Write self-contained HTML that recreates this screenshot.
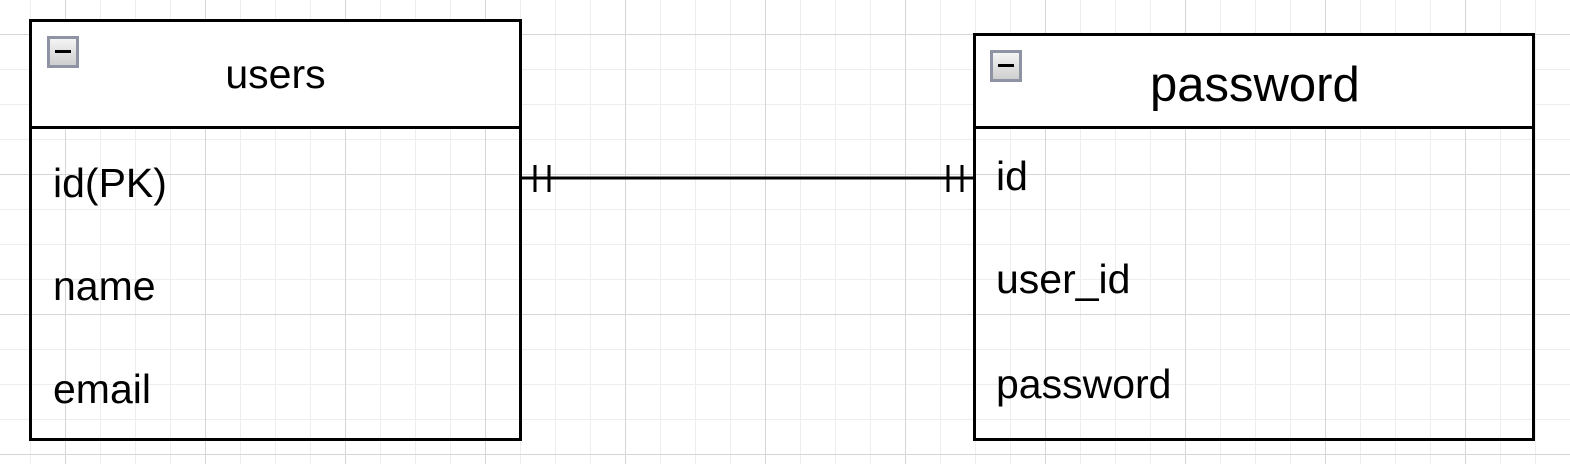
<!DOCTYPE html>
<html><head><style>
body{margin:0;width:1570px;height:464px;overflow:hidden;background:#fff;
background-image:
linear-gradient(to right,#d6d6d6 1px,transparent 1px),
linear-gradient(to bottom,#d6d6d6 1px,transparent 1px),
linear-gradient(to right,#eeeeee 1px,transparent 1px),
linear-gradient(to bottom,#eeeeee 1px,transparent 1px);
background-size:140px 140px,140px 140px,35px 35px,35px 35px;
background-position:65px 0,0 34px,30px 0,0 -1px;
font-family:"Liberation Sans",Arial,sans-serif;position:relative}
.box{position:absolute;border:3px solid #000;box-sizing:border-box}
.hdr{position:absolute;left:0;right:0;top:0;background:#fff;border-bottom:3px solid #000;box-sizing:border-box}
.ic{position:absolute;width:32px;height:32px;box-sizing:border-box;border:3px solid #8e94a3;background:linear-gradient(#f4f4f4,#cfcfcf)}
.ic:after{content:"";position:absolute;left:5px;right:5px;top:11px;height:3px;background:#000}
.t{position:absolute;white-space:nowrap;color:#000;font-size:41px;line-height:46px}
</style></head><body>
<div class="box" style="left:29px;top:19px;width:493px;height:422px">
 <div class="hdr" style="height:107px"></div>
 <div class="ic" style="left:15px;top:14px"></div>
 <div class="t" style="left:0;right:0;text-align:center;top:29px">users</div>
 <div class="t" style="left:21px;top:138px">id(PK)</div>
 <div class="t" style="left:21px;top:241px">name</div>
 <div class="t" style="left:21px;top:344px">email</div>
</div>
<div class="box" style="left:973px;top:33px;width:562px;height:408px">
 <div class="hdr" style="height:93px"></div>
 <div class="ic" style="left:14px;top:14px"></div>
 <div class="t" style="left:174px;top:21px;font-size:49px;line-height:56px">password</div>
 <div class="t" style="left:20px;top:117px">id</div>
 <div class="t" style="left:20px;top:220px">user_id</div>
 <div class="t" style="left:20px;top:325px">password</div>
</div>
<svg style="position:absolute;left:0;top:0" width="1570" height="464">
<g stroke="#000" stroke-width="3">
<line x1="521" y1="178" x2="974" y2="178"/>
<line x1="535" y1="165" x2="535" y2="192"/>
<line x1="549" y1="165" x2="549" y2="192"/>
<line x1="948" y1="165" x2="948" y2="192"/>
<line x1="962" y1="165" x2="962" y2="192"/>
</g></svg>
</body></html>
